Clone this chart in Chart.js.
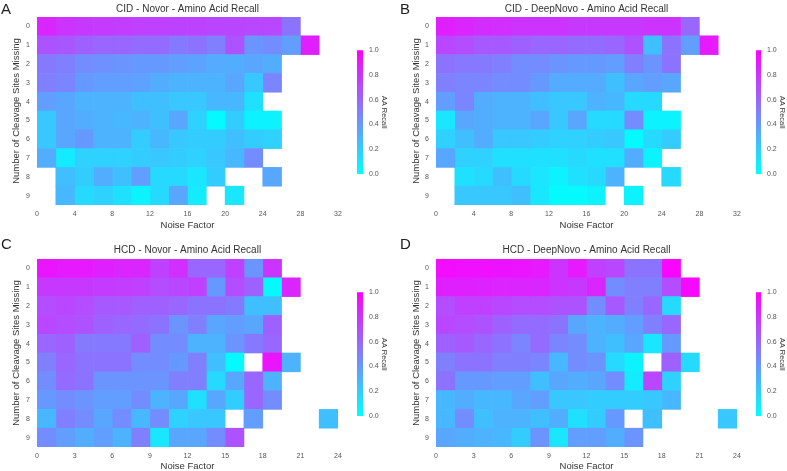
<!DOCTYPE html>
<html>
<head>
<meta charset="utf-8">
<script src="https://cdn.jsdelivr.net/npm/chart.js@4/dist/chart.umd.min.js"></script>
<style>
  body { margin: 0; background: #fff; }
  #wrap { position: relative; width: 787px; height: 471px; overflow: hidden; }
  canvas { position: absolute; }
</style>
</head>
<body>
<div id="wrap">
  <canvas id="pA" style="left:0;top:0" width="390" height="235"></canvas>
  <canvas id="pB" style="left:390px;top:0" width="397" height="235"></canvas>
  <canvas id="pC" style="left:0;top:235px" width="390" height="236"></canvas>
  <canvas id="pD" style="left:390px;top:235px" width="397" height="236"></canvas>
  <canvas id="cA" style="left:350px;top:40px" width="40" height="145"></canvas>
  <canvas id="cB" style="left:749px;top:40px" width="38" height="145"></canvas>
  <canvas id="cC" style="left:350px;top:282px" width="40" height="145"></canvas>
  <canvas id="cD" style="left:749px;top:282px" width="38" height="145"></canvas>
</div>
<script>
const rowLabels = ["0", "1", "2", "3", "4", "5", "6", "7", "8", "9"];
const colorTicks = [0, 0.2, 0.4, 0.6, 0.8, 1.0];

// AA recall per row (cleavage sites missing), one entry per noise column; null = empty cell
const cidNovor = [
  [0.85, 0.80, 0.78, 0.77, 0.76, 0.75, 0.75, 0.74, 0.74, 0.73, 0.73, 0.72, 0.72, 0.55],
  [0.68, 0.66, 0.62, 0.60, 0.60, 0.58, 0.58, 0.52, 0.55, 0.50, 0.68, 0.42, 0.45, 0.38, 0.88],
  [0.52, 0.50, 0.45, 0.43, 0.42, 0.40, 0.40, 0.38, 0.36, 0.33, 0.32, 0.35, 0.32],
  [0.50, 0.48, 0.40, 0.38, 0.38, 0.37, 0.32, 0.30, 0.30, 0.30, 0.35, 0.22, 0.48],
  [0.38, 0.35, 0.30, 0.30, 0.30, 0.25, 0.25, 0.22, 0.22, 0.28, 0.28, 0.12],
  [0.22, 0.35, 0.32, 0.30, 0.28, 0.30, 0.25, 0.35, 0.18, 0.02, 0.20, 0.05, 0.05],
  [0.22, 0.35, 0.40, 0.30, 0.30, 0.20, 0.28, 0.22, 0.20, 0.20, 0.25, 0.20, 0.18],
  [0.32, 0.08, 0.18, 0.18, 0.18, 0.20, 0.22, 0.20, 0.18, 0.22, 0.28, 0.45],
  [null, 0.25, 0.20, 0.32, 0.25, 0.38, 0.15, 0.15, 0.10, 0.20, null, null, 0.35],
  [null, 0.28, 0.15, 0.18, 0.12, 0.05, 0.15, 0.35, 0.08, null, 0.10]
];
const cidDeepNovo = [
  [0.88, 0.85, 0.83, 0.82, 0.80, 0.80, 0.80, 0.78, 0.78, 0.78, 0.78, 0.80, 0.80, 0.60],
  [0.72, 0.70, 0.65, 0.65, 0.62, 0.60, 0.60, 0.58, 0.58, 0.60, 0.68, 0.25, 0.55, 0.38, 0.90],
  [0.55, 0.53, 0.52, 0.50, 0.45, 0.45, 0.42, 0.40, 0.40, 0.38, 0.50, 0.42, 0.55],
  [0.50, 0.48, 0.48, 0.45, 0.45, 0.40, 0.33, 0.33, 0.33, 0.25, 0.35, 0.38, 0.35],
  [0.38, 0.48, 0.32, 0.30, 0.30, 0.25, 0.22, 0.22, 0.30, 0.28, 0.15, 0.15],
  [0.10, 0.35, 0.32, 0.30, 0.30, 0.35, 0.22, 0.35, 0.15, 0.15, 0.45, 0.05, 0.05],
  [0.18, 0.25, 0.32, 0.22, 0.22, 0.20, 0.18, 0.18, 0.20, 0.22, 0.02, 0.15, 0.20],
  [0.35, 0.18, 0.18, 0.12, 0.12, 0.12, 0.12, 0.15, 0.12, 0.12, 0.32, 0.05],
  [null, 0.12, 0.15, 0.25, 0.15, 0.10, 0.05, 0.12, 0.15, 0.30, null, null, 0.15],
  [null, 0.22, 0.22, 0.22, 0.25, 0.10, 0.02, 0.02, 0.05, null, 0.05]
];
const hcdNovor = [
  [0.92, 0.90, 0.90, 0.88, 0.86, 0.85, 0.75, 0.82, 0.60, 0.60, 0.75, 0.42, 0.80],
  [0.78, 0.78, 0.78, 0.77, 0.76, 0.75, 0.70, 0.72, 0.75, 0.40, 0.70, 0.62, 0.02, 0.85],
  [0.70, 0.72, 0.70, 0.65, 0.65, 0.62, 0.62, 0.60, 0.55, 0.55, 0.52, 0.25, 0.25],
  [0.72, 0.70, 0.68, 0.62, 0.60, 0.58, 0.55, 0.42, 0.50, 0.35, 0.38, 0.35, 0.62],
  [0.60, 0.62, 0.52, 0.52, 0.52, 0.62, 0.45, 0.45, 0.30, 0.30, 0.42, 0.52, 0.60],
  [0.50, 0.60, 0.55, 0.55, 0.55, 0.45, 0.45, 0.40, 0.50, 0.25, 0.02, null, 0.92, 0.30],
  [0.45, 0.58, 0.55, 0.42, 0.42, 0.42, 0.42, 0.50, 0.50, 0.15, 0.35, 0.60, 0.30],
  [0.40, 0.45, 0.42, 0.38, 0.38, 0.45, 0.30, 0.35, 0.12, 0.35, 0.20, 0.60, 0.45],
  [0.28, 0.50, 0.45, 0.35, 0.45, 0.28, 0.45, 0.18, 0.22, 0.22, null, 0.38, null, null, null, 0.25],
  [0.45, 0.38, 0.32, 0.38, 0.30, 0.50, 0.10, 0.35, 0.35, 0.45, 0.68]
];
const hcdDeepNovo = [
  [0.95, 0.94, 0.94, 0.93, 0.92, 0.90, 0.80, 0.90, 0.75, 0.72, 0.55, 0.55, 0.98],
  [0.88, 0.88, 0.87, 0.86, 0.86, 0.85, 0.80, 0.78, 0.85, 0.45, 0.50, 0.50, 0.70, 0.97],
  [0.70, 0.75, 0.75, 0.72, 0.70, 0.70, 0.68, 0.68, 0.45, 0.65, 0.50, 0.60, 0.15],
  [0.72, 0.70, 0.68, 0.62, 0.58, 0.58, 0.55, 0.35, 0.30, 0.32, 0.38, 0.50, 0.60],
  [0.62, 0.65, 0.60, 0.55, 0.48, 0.58, 0.48, 0.45, 0.30, 0.25, 0.35, 0.10, 0.40],
  [0.50, 0.55, 0.55, 0.50, 0.50, 0.48, 0.28, 0.45, 0.42, 0.15, 0.05, null, 0.62, 0.15],
  [0.55, 0.40, 0.40, 0.38, 0.38, 0.25, 0.35, 0.32, 0.35, 0.45, 0.08, 0.72, 0.18],
  [0.28, 0.32, 0.28, 0.28, 0.35, 0.38, 0.22, 0.22, 0.20, 0.20, 0.20, 0.22, 0.28],
  [0.28, 0.45, 0.25, 0.30, 0.30, 0.25, 0.32, 0.12, 0.20, 0.40, null, 0.25, null, null, null, 0.22],
  [0.35, 0.32, 0.30, 0.28, 0.20, 0.42, 0.10, 0.38, 0.38, 0.32, 0.42]
];

const FONT = "'Liberation Sans', Arial, sans-serif";

// matplotlib "cool" colormap
function cool(v) {
  const r = Math.round(255 * v), g = Math.round(255 * (1 - v));
  return `rgb(${r},${g},255)`;
}

const panelText = {
  id: "panelText",
  afterDraw(chart, args, opts) {
    const { ctx, chartArea } = chart;
    ctx.save();
    ctx.fillStyle = "#222";
    ctx.textBaseline = "top";
    ctx.textAlign = "left";
    ctx.font = `15px ${FONT}`;
    ctx.fillText(opts.letter, opts.letterX, 2);
    ctx.font = `10px ${FONT}`;
    ctx.fillStyle = "#333";
    ctx.textAlign = "center";
    ctx.textBaseline = "middle";
    ctx.fillText(opts.title, (chartArea.left + chartArea.right) / 2, opts.titleY);
    ctx.restore();
  }
};

function heatmap(id, matrix, step, xMax, letter, title, pad, titleY) {
  const nCols = Math.max(...matrix.map(r => r.length));
  const datasets = [];
  for (let j = 0; j < nCols; j++) {
    const data = matrix.map(r => (r[j] == null ? null : [j * step, (j + 1) * step]));
    const colors = matrix.map(r => (r[j] == null ? "rgba(0,0,0,0)" : cool(r[j])));
    datasets.push({ data, backgroundColor: colors, borderWidth: 0 });
  }
  new Chart(document.getElementById(id), {
    type: "bar",
    data: { labels: rowLabels, datasets },
    options: {
      indexAxis: "y",
      responsive: false,
      animation: false,
      grouped: false,
      barPercentage: 1,
      categoryPercentage: 1,
      layout: { padding: pad },
      plugins: {
        legend: { display: false },
        tooltip: { enabled: false },
        panelText: { letter, title, titleY, letterX: pad.letterX }
      },
      scales: {
        x: {
          type: "linear", min: 0, max: xMax,
          grid: { display: false, drawTicks: false },
          border: { display: false },
          ticks: { stepSize: step * 2, padding: 5, color: "#555", font: { size: 7, family: FONT } },
          title: { display: true, text: "Noise Factor", color: "#333", padding: 0,
                   font: { size: 9.5, family: FONT, lineHeight: 1 } },
          afterFit: s => { s.height = pad.xh; }
        },
        y: {
          grid: { display: false, drawTicks: false },
          border: { display: false },
          ticks: { padding: 7, color: "#555", font: { size: 7, family: FONT } },
          title: { display: true, text: "Number of Cleavage Sites Missing", color: "#333", padding: 0,
                   font: { size: 9.5, family: FONT, lineHeight: 1 } },
          afterFit: s => { s.width = pad.yw; }
        }
      }
    },
    plugins: [panelText]
  });
}

function colorbar(id, padRight, titleShift) {
  new Chart(document.getElementById(id), {
    type: "bar",
    data: {
      labels: [""],
      datasets: [{
        data: [[0, 1]],
        borderWidth: 0,
        backgroundColor: c => {
          const a = c.chart.chartArea;
          if (!a) return null;
          const g = c.chart.ctx.createLinearGradient(0, a.bottom, 0, a.top);
          for (let i = 0; i <= 10; i++) g.addColorStop(i / 10, cool(i / 10));
          return g;
        }
      }]
    },
    options: {
      responsive: false,
      animation: false,
      barPercentage: 1,
      categoryPercentage: 1,
      layout: { padding: { left: 7, top: 8, bottom: 11, right: 0 } },
      plugins: { legend: { display: false }, tooltip: { enabled: false } },
      scales: {
        x: { display: false },
        y: {
          position: "right", min: 0, max: 1,
          grid: { display: false, drawTicks: false },
          border: { display: false },
          afterBuildTicks: s => { s.ticks = colorTicks.map(v => ({ value: v })); },
          ticks: { padding: 6, color: "#555", font: { size: 7, family: FONT },
                   callback: v => Number(v).toFixed(1) },
          title: { display: true, text: "AA Recall", color: "#333", padding: titleShift,
                   font: { size: 7.5, family: FONT, lineHeight: 1 } },
          afterFit: s => { s.width = padRight; }
        }
      }
    }
  });
}

heatmap("pA", cidNovor, 2, 32, "A", "CID - Novor - Amino Acid Recall",
  { left: 12, top: 17, right: 52, bottom: 5, yw: 25, xh: 25, letterX: 1 }, 9);
heatmap("pB", cidDeepNovo, 2, 32, "B", "CID - DeepNovo - Amino Acid Recall",
  { left: 22, top: 17, right: 50, bottom: 5, yw: 24, xh: 25, letterX: 10 }, 9);
heatmap("pC", hcdNovor, 1.5, 24, "C", "HCD - Novor - Amino Acid Recall",
  { left: 12, top: 24, right: 52, bottom: 0, yw: 25, xh: 24, letterX: 1 }, 15);
heatmap("pD", hcdDeepNovo, 1.5, 24, "D", "HCD - DeepNovo - Amino Acid Recall",
  { left: 22, top: 24, right: 50, bottom: 0, yw: 24, xh: 24, letterX: 10 }, 15);

colorbar("cA", 27, 2);
colorbar("cB", 26, 1);
colorbar("cC", 27, 2);
colorbar("cD", 26, 1);
</script>
</body>
</html>
